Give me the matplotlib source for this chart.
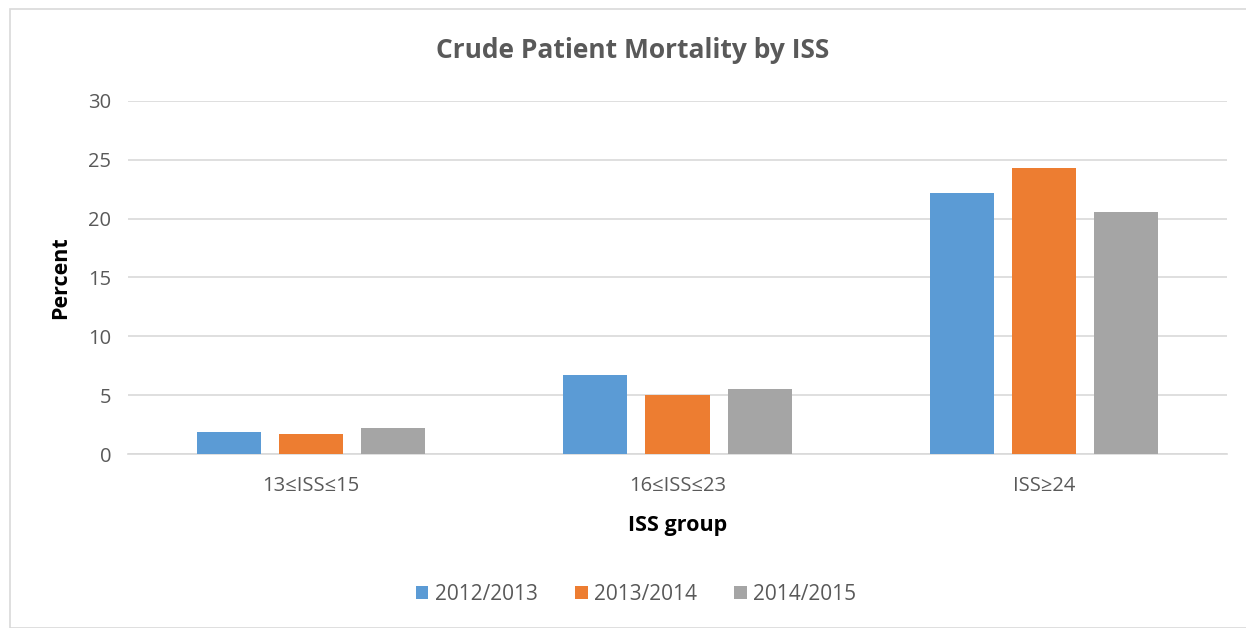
import matplotlib.pyplot as plt
import numpy as np
from matplotlib.patches import Rectangle

groups = ['13≤ISS≤15', '16≤ISS≤23', 'ISS≥24']
seasons = ['2012/2013', '2013/2014', '2014/2015']
mortality = {
    '2012/2013': [1.9, 6.7, 22.2],
    '2013/2014': [1.7, 5.0, 24.3],
    '2014/2015': [2.2, 5.5, 20.6],
}
colors = ['#5B9BD5', '#ED7D31', '#A5A5A5']

plt.rcParams['font.family'] = ['Open Sans', 'DejaVu Sans']
text_col = '#595959'

fig = plt.figure(figsize=(12.46, 6.28), dpi=100)
# chart frame
fig.patches.append(Rectangle((10 / 1246, 0), 1.1, 1 - 9 / 628, transform=fig.transFigure,
                             fill=False, edgecolor='#D9D9D9', linewidth=1.2))

ax = fig.add_axes([128 / 1246, 1 - 454 / 628, (1227 - 128) / 1246, (454 - 101) / 628])

x = np.arange(len(groups))
width = 0.175
offsets = [-0.224, 0, 0.224]
for s, off, c in zip(seasons, offsets, colors):
    ax.bar(x + off, mortality[s], width=width, color=c, label=s, zorder=3)

ax.set_xlim(-0.5, 2.5)
ax.set_ylim(0, 30)
ax.set_yticks(range(0, 31, 5))
ax.set_xticks(x)
ax.set_xticklabels(groups)
ax.yaxis.grid(True, color='#D9D9D9', linewidth=1.2, zorder=0)
ax.tick_params(length=0, labelsize=14.5, colors=text_col)
ax.tick_params(axis='x', pad=16)
ax.tick_params(axis='y', pad=12)
for sp in ['top', 'right', 'left']:
    ax.spines[sp].set_visible(False)
ax.spines['bottom'].set_color('#D9D9D9')
ax.spines['bottom'].set_linewidth(1.2)

fig.text(633 / 1246, 1 - 50 / 628, 'Crude Patient Mortality by ISS', fontsize=19,
         fontweight='bold', color=text_col, ha='center', va='center')
ax.set_ylabel('Percent', fontsize=15.5, fontweight='bold', color='black')
ax.yaxis.set_label_coords(-0.052, 0.5)
ax.set_xlabel('ISS group', fontsize=15.5, fontweight='bold', color='black')
ax.xaxis.set_label_coords(0.5, -0.173)

fig.legend(loc='center', bbox_to_anchor=(636 / 1246, 1 - 594 / 628), ncol=3, frameon=False,
           fontsize=15, handlelength=0.6, handleheight=0.6, columnspacing=1.8,
           handletextpad=0.3, labelcolor=text_col)

fig.savefig('out.png', dpi=100)
